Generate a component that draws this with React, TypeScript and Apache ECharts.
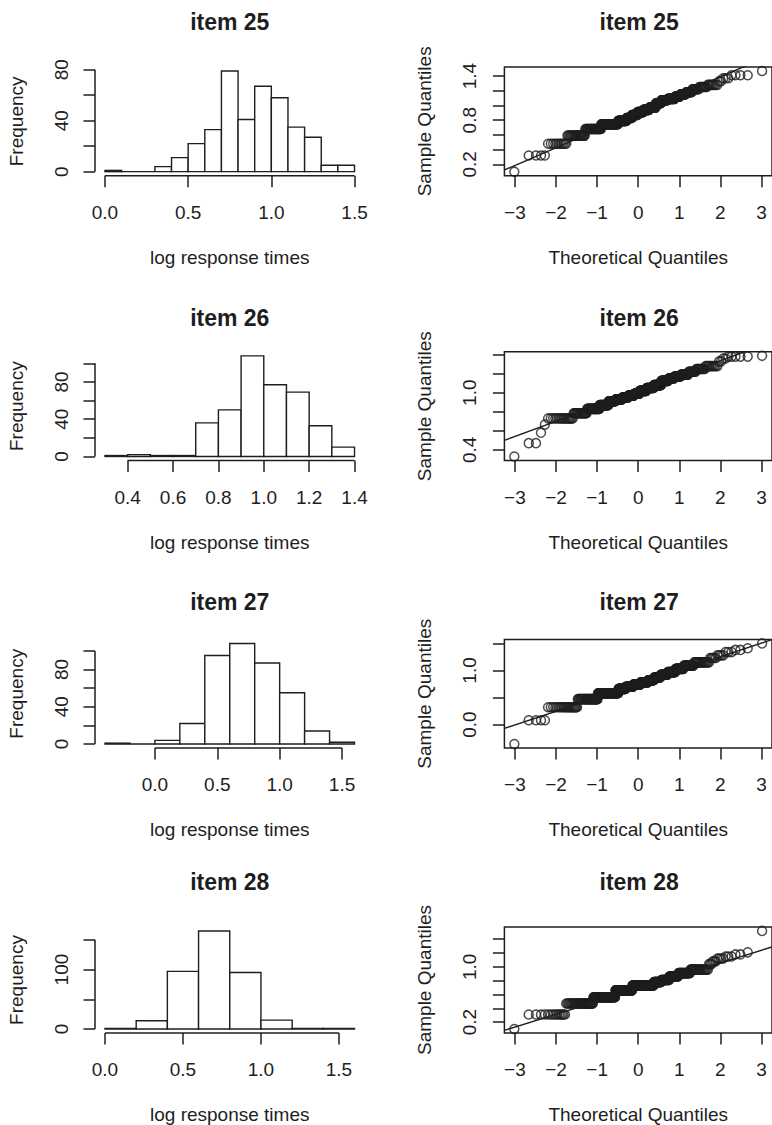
import React, { useEffect, useRef } from 'react';
import * as echarts from 'echarts';

// ---------- data ----------
const itemTitles = ['item 25', 'item 26', 'item 27', 'item 28'];

const hist25Breaks = [0.0, 0.1, 0.2, 0.3, 0.4, 0.5, 0.6, 0.7, 0.8, 0.9, 1.0, 1.1, 1.2, 1.3, 1.4, 1.5];
const hist25Counts = [1, 0, 0, 4, 11, 22, 33, 79, 41, 67, 58, 35, 27, 5, 5];
const hist26Breaks = [0.3, 0.4, 0.5, 0.6, 0.7, 0.8, 0.9, 1.0, 1.1, 1.2, 1.3, 1.4];
const hist26Counts = [1, 2, 1, 1, 36, 50, 108, 77, 69, 33, 10];
const hist27Breaks = [-0.4, -0.2, 0.0, 0.2, 0.4, 0.6, 0.8, 1.0, 1.2, 1.4, 1.6];
const hist27Counts = [1, 0, 4, 22, 95, 108, 87, 55, 14, 2];
const hist28Breaks = [0.0, 0.2, 0.4, 0.6, 0.8, 1.0, 1.2, 1.4, 1.6];
const hist28Counts = [1, 14, 97, 165, 95, 15, 1, 1];

const hist25XTicks = [0.0, 0.5, 1.0, 1.5];
const hist26XTicks = [0.4, 0.6, 0.8, 1.0, 1.2, 1.4];
const hist27XTicks = [0.0, 0.5, 1.0, 1.5];
const hist28XTicks = [0.0, 0.5, 1.0, 1.5];
const hist25YTicks = [0, 20, 40, 60, 80];
const hist25YLabels = [0, 40, 80];
const hist26YTicks = [0, 20, 40, 60, 80, 100];
const hist26YLabels = [0, 40, 80];
const hist27YTicks = [0, 20, 40, 60, 80, 100];
const hist27YLabels = [0, 40, 80];
const hist28YTicks = [0, 50, 100, 150];
const hist28YLabels = [0, 100];

// sorted sample values (distinct) and how many observations sit at each
const qq25Values = [0.10, 0.32, 0.48, 0.59, 0.68, 0.745, 0.79, 0.83, 0.87, 0.91, 0.94, 0.97, 1.03, 1.07, 1.09, 1.12, 1.15, 1.18, 1.22, 1.25, 1.28, 1.33, 1.37, 1.41, 1.468];
const qq25Counts = [1, 4, 11, 22, 33, 50, 29, 20, 21, 22, 22, 23, 18, 20, 20, 12, 12, 11, 10, 9, 8, 2, 3, 4, 1];
const qq26Values = [0.33, 0.47, 0.58, 0.665, 0.73, 0.785, 0.83, 0.87, 0.91, 0.93, 0.95, 0.97, 0.99, 1.02, 1.05, 1.08, 1.125, 1.15, 1.17, 1.19, 1.22, 1.25, 1.28, 1.33, 1.36, 1.38, 1.388];
const qq26Counts = [1, 2, 1, 1, 17, 19, 26, 24, 22, 22, 22, 21, 21, 26, 26, 25, 22, 16, 16, 15, 12, 11, 10, 2, 2, 5, 1];
const qq27Values = [-0.36, 0.08, 0.32, 0.47, 0.58, 0.66, 0.70, 0.74, 0.78, 0.82, 0.87, 0.92, 0.97, 1.03, 1.09, 1.15, 1.23, 1.28, 1.34, 1.38, 1.41, 1.50];
const qq27Counts = [1, 4, 22, 36, 59, 25, 28, 28, 27, 22, 22, 22, 21, 19, 18, 18, 5, 4, 3, 2, 1, 1];
const qq28Values = [0.10, 0.31, 0.47, 0.56, 0.66, 0.73, 0.78, 0.81, 0.86, 0.91, 0.96, 1.04, 1.08, 1.12, 1.15, 1.18, 1.21, 1.52];
const qq28Counts = [1, 14, 38, 59, 60, 80, 25, 24, 24, 24, 23, 3, 3, 4, 3, 2, 1, 1];

const qqXTicks = [-3, -2, -1, 0, 1, 2, 3];
const qq25YTicks = [0.2, 0.4, 0.6, 0.8, 1.0, 1.2, 1.4];
const qq25YLabels = [0.2, 0.8, 1.4];
const qq26YTicks = [0.4, 0.6, 0.8, 1.0, 1.2, 1.4];
const qq26YLabels = [0.4, 1.0];
const qq27YTicks = [0.0, 0.5, 1.0, 1.5];
const qq27YLabels = [0.0, 1.0];
const qq28YTicks = [0.2, 0.4, 0.6, 0.8, 1.0, 1.2, 1.4];
const qq28YLabels = [0.2, 1.0];

// ---------- helpers ----------
function qnorm(p: number): number {
  const a = [-3.969683028665376e1, 2.209460984245205e2, -2.759285104469687e2, 1.38357751867269e2, -3.066479806614716e1, 2.506628277459239];
  const b = [-5.447609879822406e1, 1.615858368580409e2, -1.556989798598866e2, 6.680131188771972e1, -1.328068155288572e1];
  const c = [-7.784894002430293e-3, -3.223964580411365e-1, -2.400758277161838, -2.549732539343734, 4.374664141464968, 2.938163982698783];
  const d = [7.784695709041462e-3, 3.224671290700398e-1, 2.445134137142996, 3.754408661907416];
  const pl = 0.02425;
  if (p < pl) {
    const q = Math.sqrt(-2 * Math.log(p));
    return (((((c[0] * q + c[1]) * q + c[2]) * q + c[3]) * q + c[4]) * q + c[5]) / ((((d[0] * q + d[1]) * q + d[2]) * q + d[3]) * q + 1);
  }
  if (p > 1 - pl) {
    const q = Math.sqrt(-2 * Math.log(1 - p));
    return -(((((c[0] * q + c[1]) * q + c[2]) * q + c[3]) * q + c[4]) * q + c[5]) / ((((d[0] * q + d[1]) * q + d[2]) * q + d[3]) * q + 1);
  }
  const q = p - 0.5;
  const r = q * q;
  return ((((((a[0] * r + a[1]) * r + a[2]) * r + a[3]) * r + a[4]) * r + a[5]) * q) / (((((b[0] * r + b[1]) * r + b[2]) * r + b[3]) * r + b[4]) * r + 1);
}

function quantile7(sorted: number[], p: number): number {
  const h = (sorted.length - 1) * p;
  const lo = Math.floor(h);
  const hi = Math.min(lo + 1, sorted.length - 1);
  return sorted[lo] + (h - lo) * (sorted[hi] - sorted[lo]);
}

function buildQQ(values: number[], counts: number[]) {
  const sorted: number[] = [];
  values.forEach((v, i) => {
    for (let k = 0; k < counts[i]; k++) sorted.push(v);
  });
  const n = sorted.length;
  const pts = sorted.map((v, i) => [qnorm((i + 0.5) / n), v]);
  const x1 = qnorm(0.25);
  const x3 = qnorm(0.75);
  const y1 = quantile7(sorted, 0.25);
  const y3 = quantile7(sorted, 0.75);
  const slope = (y3 - y1) / (x3 - x1);
  const intercept = y1 - slope * x1;
  const qmin = pts[0][0];
  const qmax = pts[n - 1][0];
  const xr = qmax - qmin;
  const ymin = sorted[0];
  const ymax = sorted[n - 1];
  const yr = ymax - ymin;
  return {
    pts,
    slope,
    intercept,
    xlim: [qmin - 0.04 * xr, qmax + 0.04 * xr],
    ylim: [ymin - 0.04 * yr, ymax + 0.04 * yr],
  };
}

// ---------- layout & style ----------
const FONT = "'Liberation Sans', Arial, Helvetica, sans-serif";
const INK = '#1e1e1e';
const LW = 1.5;
const LEFT_COL = 95;
const RIGHT_COL = 504.4;
const PANEL_W = 269.5;
const PANEL_H = 108.7;
const ROW_TOPS = [67, 351.8, 639.4, 927];
const TITLE_Y = [21.7, 318.3, 601.7, 881.7];

const histSets = [
  { breaks: hist25Breaks, counts: hist25Counts, xt: hist25XTicks, yt: hist25YTicks, yl: hist25YLabels },
  { breaks: hist26Breaks, counts: hist26Counts, xt: hist26XTicks, yt: hist26YTicks, yl: hist26YLabels },
  { breaks: hist27Breaks, counts: hist27Counts, xt: hist27XTicks, yt: hist27YTicks, yl: hist27YLabels },
  { breaks: hist28Breaks, counts: hist28Counts, xt: hist28XTicks, yt: hist28YTicks, yl: hist28YLabels },
];
const qqSets = [
  { values: qq25Values, counts: qq25Counts, yt: qq25YTicks, yl: qq25YLabels },
  { values: qq26Values, counts: qq26Counts, yt: qq26YTicks, yl: qq26YLabels },
  { values: qq27Values, counts: qq27Counts, yt: qq27YTicks, yl: qq27YLabels },
  { values: qq28Values, counts: qq28Counts, yt: qq28YTicks, yl: qq28YLabels },
];

const labelStyle = { fontSize: 19, color: INK, fontFamily: FONT };
const titleStyle = { fontSize: 23, fontWeight: 'bold', color: INK, fontFamily: FONT };

function buildOption() {
  const grid: any[] = [];
  const xAxis: any[] = [];
  const yAxis: any[] = [];
  const series: any[] = [];
  const title: any[] = [];

  for (let r = 0; r < 4; r++) {
    // ---------------- histogram ----------------
    const h = histSets[r];
    const gi = grid.length;
    const b0 = h.breaks[0];
    const bN = h.breaks[h.breaks.length - 1];
    const xr = bN - b0;
    const xmin = b0 - 0.04 * xr;
    const xmax = bN + 0.04 * xr;
    const cmax = Math.max(...h.counts);
    const ymin = -0.04 * cmax;
    const ymax = 1.04 * cmax;

    grid.push({ left: LEFT_COL, top: ROW_TOPS[r], width: PANEL_W, height: PANEL_H, show: false });
    xAxis.push({
      type: 'value', gridIndex: gi, min: xmin, max: xmax,
      axisLine: { show: false, onZero: false },
      axisTick: { show: true, length: 11.5, lineStyle: { color: INK, width: LW }, customValues: h.xt },
      axisLabel: { show: true, customValues: h.xt, margin: 27, ...labelStyle, formatter: (v: number) => v.toFixed(1) },
      splitLine: { show: false },
      name: 'log response times', nameLocation: 'middle', nameGap: 72, nameTextStyle: labelStyle,
    });
    yAxis.push({
      type: 'value', gridIndex: gi, min: ymin, max: ymax,
      axisLine: { show: false, onZero: false },
      axisTick: { show: true, length: 11.5, lineStyle: { color: INK, width: LW }, customValues: h.yt },
      axisLabel: { show: true, customValues: h.yl, rotate: 90, margin: 24, ...labelStyle, formatter: (v: number) => String(Math.round(v)) },
      splitLine: { show: false },
      name: 'Frequency', nameLocation: 'middle', nameGap: 69, nameTextStyle: labelStyle,
    });
    series.push({
      type: 'custom', xAxisIndex: gi, yAxisIndex: gi, silent: true,
      data: h.counts.map((c, i) => [h.breaks[i], h.breaks[i + 1], c]),
      encode: { x: [0, 1], y: 2 },
      renderItem: (_p: any, api: any) => {
        const a = api.coord([api.value(0), api.value(2)]);
        const b = api.coord([api.value(1), 0]);
        return {
          type: 'polygon',
          shape: { points: [[a[0], b[1]], [a[0], a[1]], [b[0], a[1]], [b[0], b[1]]] },
          style: { fill: '#fff', stroke: INK, lineWidth: 1.4 },
        };
      },
    });
    series.push({
      type: 'line', xAxisIndex: gi, yAxisIndex: gi, silent: true, clip: false, symbol: 'none',
      lineStyle: { color: INK, width: LW },
      data: [[h.xt[0], ymin], [h.xt[h.xt.length - 1], ymin]],
    });
    series.push({
      type: 'line', xAxisIndex: gi, yAxisIndex: gi, silent: true, clip: false, symbol: 'none',
      lineStyle: { color: INK, width: LW },
      data: [[xmin, h.yt[0]], [xmin, h.yt[h.yt.length - 1]]],
    });
    title.push({
      text: itemTitles[r], left: LEFT_COL + PANEL_W / 2, top: TITLE_Y[r],
      textAlign: 'center', textVerticalAlign: 'middle', padding: 0,
      textStyle: titleStyle,
    });

    // ---------------- QQ plot ----------------
    const q = qqSets[r];
    const qq = buildQQ(q.values, q.counts);
    const gj = grid.length;
    grid.push({ left: RIGHT_COL, top: ROW_TOPS[r], width: PANEL_W, height: PANEL_H, show: true, borderColor: INK, borderWidth: LW, backgroundColor: 'transparent' });
    xAxis.push({
      type: 'value', gridIndex: gj, min: qq.xlim[0], max: qq.xlim[1],
      axisLine: { show: false, onZero: false },
      axisTick: { show: true, length: 11.5, lineStyle: { color: INK, width: LW }, customValues: qqXTicks },
      axisLabel: {
        show: true, customValues: qqXTicks, margin: 27, ...labelStyle,
        formatter: (v: number) => (v < 0 ? '\u2212' + String(Math.abs(v)) : String(v)),
      },
      splitLine: { show: false },
      name: 'Theoretical Quantiles', nameLocation: 'middle', nameGap: 72, nameTextStyle: labelStyle,
    });
    yAxis.push({
      type: 'value', gridIndex: gj, min: qq.ylim[0], max: qq.ylim[1],
      axisLine: { show: false, onZero: false },
      axisTick: { show: true, length: 11.5, lineStyle: { color: INK, width: LW }, customValues: q.yt },
      axisLabel: { show: true, customValues: q.yl, rotate: 90, margin: 25, ...labelStyle, formatter: (v: number) => v.toFixed(1) },
      splitLine: { show: false },
      name: 'Sample Quantiles', nameLocation: 'middle', nameGap: 70, nameTextStyle: labelStyle,
    });
    series.push({
      type: 'scatter', xAxisIndex: gj, yAxisIndex: gj, silent: true,
      symbol: 'circle', symbolSize: 9,
      itemStyle: { color: 'rgba(0,0,0,0)', borderColor: INK, borderWidth: 1.5 },
      data: qq.pts,
    });
    series.push({
      type: 'line', xAxisIndex: gj, yAxisIndex: gj, silent: true, clip: true, symbol: 'none',
      lineStyle: { color: INK, width: 1.4 },
      data: [
        [qq.xlim[0], qq.intercept + qq.slope * qq.xlim[0]],
        [qq.xlim[1], qq.intercept + qq.slope * qq.xlim[1]],
      ],
    });
    title.push({
      text: itemTitles[r], left: RIGHT_COL + PANEL_W / 2, top: TITLE_Y[r],
      textAlign: 'center', textVerticalAlign: 'middle', padding: 0,
      textStyle: titleStyle,
    });
  }

  return {
    animation: false,
    backgroundColor: '#fff',
    title,
    grid,
    xAxis,
    yAxis,
    series,
  };
}

export default function App() {
  const ref = useRef<HTMLDivElement>(null);
  useEffect(() => {
    if (!ref.current) return;
    const chart = echarts.init(ref.current, null, { renderer: 'svg' });
    chart.setOption(buildOption() as any);
    return () => chart.dispose();
  }, []);
  return (
    <div
      ref={ref}
      style={{ position: 'absolute', left: 0, top: 0, width: 772, height: 1125, background: '#fff' }}
    />
  );
}
